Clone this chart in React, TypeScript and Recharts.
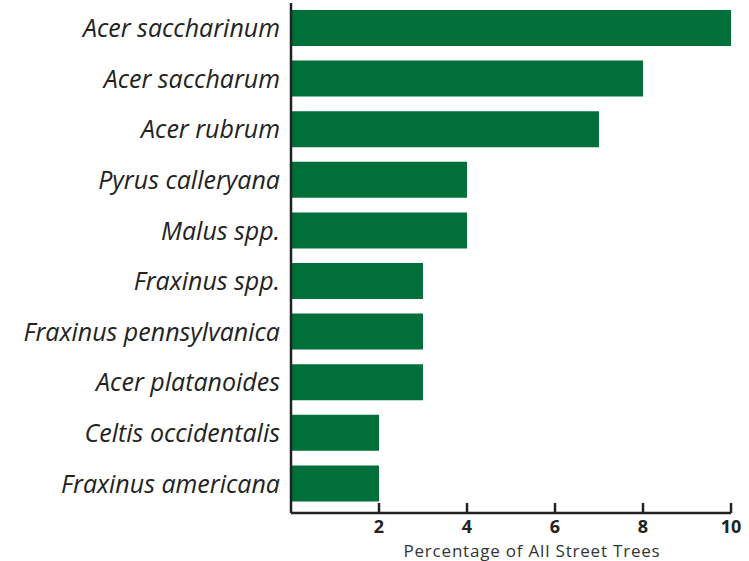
import React from 'react';
import { BarChart, Bar, XAxis, YAxis, Label } from 'recharts';

const species = [
  'Acer saccharinum',
  'Acer saccharum',
  'Acer rubrum',
  'Pyrus calleryana',
  'Malus spp.',
  'Fraxinus spp.',
  'Fraxinus pennsylvanica',
  'Acer platanoides',
  'Celtis occidentalis',
  'Fraxinus americana',
];
const percentages = [10, 8, 7, 4, 4, 3, 3, 3, 2, 2];
const xTicks = [2, 4, 6, 8, 10];
const xTitle = 'Percentage of All Street Trees';

const data = species.map((name, i) => ({ name, value: percentages[i] }));

const FONT = '"Open Sans", Lato, sans-serif';

// tick marks point up into the plot, labels sit below the axis
const XTick = ({ x, y, payload }: any) => (
  <g>
    <line x1={x} x2={x} y1={y - 14} y2={y - 4} stroke="#222" strokeWidth={2.5} />
    <text x={x} y={y + 16} textAnchor="middle" fontFamily={FONT} fontWeight={700} fontSize={18} fill="#222">
      {payload.value}
    </text>
  </g>
);

// axis title sits a little right of the plot centre, like the original
const XTitle = ({ viewBox }: any) => (
  <text
    x={viewBox.x + viewBox.width / 2 + 21}
    y={viewBox.y + 44}
    textAnchor="middle"
    fontFamily={FONT}
    fontSize={17}
    letterSpacing={0.8}
    fill="#333"
  >
    {xTitle}
  </text>
);

export default function App() {
  return (
    <div style={{ position: 'absolute', left: 0, top: 0, width: 749, height: 561, background: '#fff' }}>
      <BarChart
        layout="vertical"
        width={749}
        height={561}
        data={data}
        margin={{ top: 3, right: 18, bottom: 0, left: 0 }}
        barSize={36}
      >
        <XAxis
          type="number"
          domain={[0, 10]}
          ticks={xTicks}
          tickSize={0}
          tickMargin={4}
          tickLine={false}
          axisLine={{ stroke: '#222', strokeWidth: 2.5 }}
          tick={<XTick />}
          height={48}
        >
          <Label content={<XTitle />} />
        </XAxis>
        <YAxis
          type="category"
          dataKey="name"
          width={291}
          tickLine={false}
          tickSize={0}
          tickMargin={11}
          padding={{ top: 0, bottom: 4 }}
          axisLine={{ stroke: '#222', strokeWidth: 2.5 }}
          tick={{ fontFamily: FONT, fontStyle: 'italic', fontSize: 25, fill: '#222' }}
        />
        <Bar dataKey="value" fill="#006f3a" isAnimationActive={false} />
      </BarChart>
    </div>
  );
}
